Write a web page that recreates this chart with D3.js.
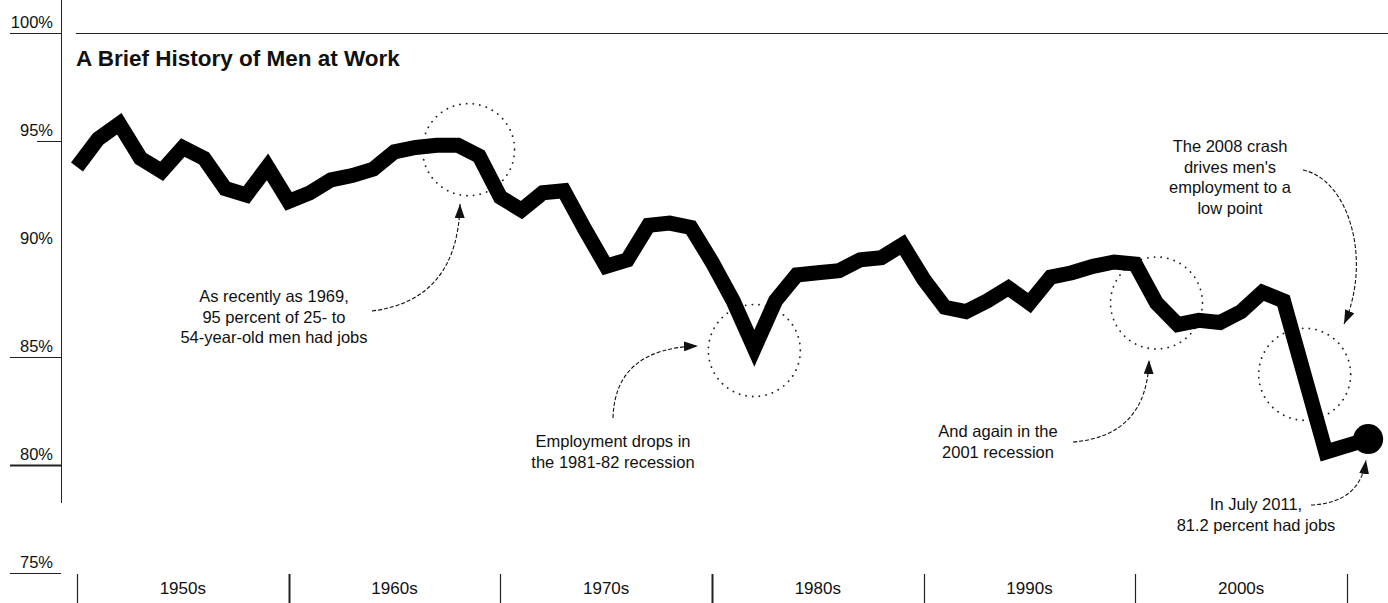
<!DOCTYPE html>
<html>
<head>
<meta charset="utf-8">
<script src="https://cdn.jsdelivr.net/npm/d3@7"></script>
<style>
  html, body { margin: 0; padding: 0; background: #fff; }
  svg { display: block; }
  text { font-family: "Liberation Sans", Arial, Helvetica, sans-serif; fill: #111; }
</style>
</head>
<body>
<svg id="chart" width="1388" height="603"></svg>
<script>
// Employment rate of men aged 25-54, annual, in percent
const years = [
  1950, 1951, 1952, 1953, 1954, 1955, 1956, 1957, 1958, 1959,
  1960, 1961, 1962, 1963, 1964, 1965, 1966, 1967, 1968, 1969,
  1970, 1971, 1972, 1973, 1974, 1975, 1976, 1977, 1978, 1979,
  1980, 1981, 1982, 1983, 1984, 1985, 1986, 1987, 1988, 1989,
  1990, 1991, 1992, 1993, 1994, 1995, 1996, 1997, 1998, 1999,
  2000, 2001, 2002, 2003, 2004, 2005, 2006, 2007, 2008, 2009,
  2010, 2011
];
const employment = [
  93.8, 95.1, 95.8, 94.2, 93.6, 94.7, 94.2, 92.8, 92.5, 93.8,
  92.2, 92.6, 93.2, 93.4, 93.7, 94.5, 94.7, 94.8, 94.8, 94.3,
  92.4, 91.8, 92.6, 92.7, 90.9, 89.2, 89.5, 91.1, 91.2, 91.0,
  89.4, 87.6, 85.4, 87.6, 88.8, 88.9, 89.0, 89.5, 89.6, 90.2,
  88.6, 87.3, 87.1, 87.6, 88.2, 87.5, 88.7, 88.9, 89.2, 89.4,
  89.3, 87.5, 86.5, 86.7, 86.6, 87.1, 88.0, 87.6, 84.1, 80.6,
  80.9, 81.2
];
const yTicks = [75, 80, 85, 90, 95, 100];
const decadeStarts = [1950, 1960, 1970, 1980, 1990, 2000, 2010];
const decadeLabels = ["1950s", "1960s", "1970s", "1980s", "1990s", "2000s"];

// Highlighted episodes: centres of the dotted rings
const highlightYears = [1968.5, 1982, 2001, 2008];
const highlightValues = [94.6, 85.3, 87.5, 84.2];

const title = "A Brief History of Men at Work";

const svg = d3.select("#chart");
const x = d3.scaleLinear().domain([1950, 2010]).range([77, 1347]);
const y = d3.scaleLinear().domain([75, 100]).range([573, 33]);

// arrowhead marker
svg.append("defs").append("marker")
  .attr("id", "arrow")
  .attr("markerUnits", "userSpaceOnUse")
  .attr("viewBox", "0 0 14 10")
  .attr("refX", 14).attr("refY", 5)
  .attr("markerWidth", 14).attr("markerHeight", 10)
  .attr("orient", "auto")
  .append("path").attr("d", "M0,0 L14,5 L0,10 Z").attr("fill", "#111");

// Y axis: labels sit above their tick lines
const yAxis = svg.append("g");
yAxis.append("line")
  .attr("x1", 61.5).attr("x2", 61.5).attr("y1", 0).attr("y2", 503)
  .attr("stroke", "#222").attr("stroke-width", 1);
yTicks.forEach(t => {
  const yy = Math.round(y(t)) + 0.5;
  if (t !== 90) {
    yAxis.append("line")
      .attr("x1", t === 95 ? 37 : 10).attr("x2", 61)
      .attr("y1", yy).attr("y2", yy)
      .attr("stroke", "#222").attr("stroke-width", t === 80 ? 2 : 1);
  }
  yAxis.append("text")
    .attr("x", 53).attr("y", yy - 6)
    .attr("text-anchor", "end")
    .attr("font-size", 16.5)
    .text(t + "%");
});

// top rule and title
svg.append("line")
  .attr("x1", 76).attr("x2", 1388).attr("y1", y(100) + 0.5).attr("y2", y(100) + 0.5)
  .attr("stroke", "#222").attr("stroke-width", 1.2);
svg.append("text")
  .attr("x", 76).attr("y", 66)
  .attr("font-size", 22.5).attr("font-weight", "bold")
  .attr("fill", "#000")
  .text(title);

// X axis: decade dividers with centred labels
const xAxis = svg.append("g");
decadeStarts.forEach(d => {
  xAxis.append("line")
    .attr("x1", Math.round(x(d)) + 0.5).attr("x2", Math.round(x(d)) + 0.5)
    .attr("y1", 574).attr("y2", 603)
    .attr("stroke", "#222").attr("stroke-width", (d === 1960 || d === 1980) ? 2 : 1.2);
});
decadeLabels.forEach((lab, i) => {
  xAxis.append("text")
    .attr("x", x(decadeStarts[i] + 5)).attr("y", 594)
    .attr("text-anchor", "middle")
    .attr("font-size", 17)
    .text(lab);
});

// dotted rings around the downturns
highlightYears.forEach((yr, i) => {
  svg.append("circle")
    .attr("cx", x(yr)).attr("cy", y(highlightValues[i]))
    .attr("r", 46)
    .attr("fill", "none").attr("stroke", "#222")
    .attr("stroke-width", 1.8)
    .attr("stroke-linecap", "round")
    .attr("stroke-dasharray", "0.1 6.6");
});

// the series line
const series = years.map((yr, i) => [yr, employment[i]]);
const line = d3.line().x(d => x(d[0])).y(d => y(d[1]));
svg.append("path")
  .datum(series)
  .attr("d", line)
  .attr("fill", "none").attr("stroke", "#000")
  .attr("stroke-width", 15)
  .attr("stroke-linejoin", "miter")
  .attr("stroke-miterlimit", 10);
const last = series[series.length - 1];
svg.append("circle")
  .attr("cx", x(last[0])).attr("cy", y(last[1]))
  .attr("r", 15).attr("fill", "#000");

// annotations
const notes = [
  { cx: 274, y0: 302, lines: ["As recently as 1969,", "95 percent of 25- to", "54-year-old men had jobs"],
    path: "M372,311 Q458,300 460,204" },
  { cx: 613, y0: 447, lines: ["Employment drops in", "the 1981-82 recession"],
    path: "M613,418 Q615,348 698,346" },
  { cx: 998, y0: 437, lines: ["And again in the", "2001 recession"],
    path: "M1073,442 Q1147,436 1149,360" },
  { cx: 1230, y0: 152, lines: ["The 2008 crash", "drives men's", "employment to a", "low point"],
    path: "M1303,170 C1350,180 1372,262 1344,324" },
  { cx: 1256, y0: 510, lines: ["In July 2011,", "81.2 percent had jobs"],
    path: "M1311,505 Q1360,503 1366,460" }
];
notes.forEach(n => {
  const t = svg.append("text")
    .attr("text-anchor", "middle")
    .attr("font-size", 16.5);
  n.lines.forEach((l, i) => {
    t.append("tspan").attr("x", n.cx).attr("y", n.y0 + i * 20.5).text(l);
  });
  svg.append("path")
    .attr("d", n.path)
    .attr("fill", "none").attr("stroke", "#111")
    .attr("stroke-width", 1.1)
    .attr("stroke-dasharray", "4 2")
    .attr("marker-end", "url(#arrow)");
});
</script>
</body>
</html>
